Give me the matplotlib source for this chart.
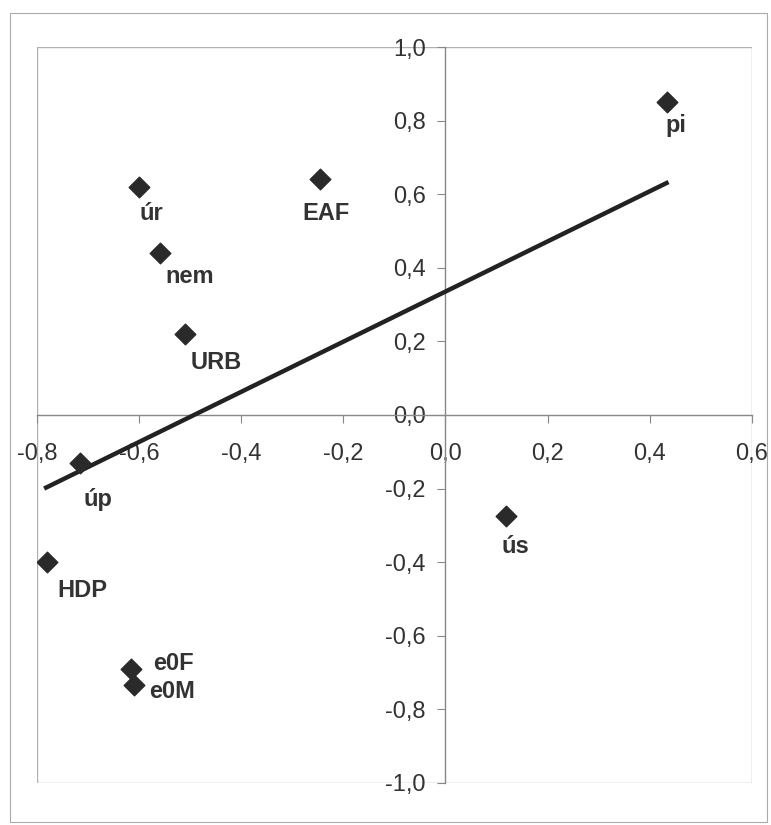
import matplotlib
matplotlib.use("Agg")
import matplotlib.pyplot as plt
from matplotlib.patches import Rectangle
from matplotlib.ticker import FuncFormatter

# data
labels = ["úr", "EAF", "nem", "URB", "pi", "úp", "HDP", "e0F", "e0M", "ús"]
x_vals = [-0.60, -0.245, -0.56, -0.51, 0.435, -0.715, -0.78, -0.615, -0.61, 0.118]
y_vals = [0.62, 0.64, 0.44, 0.22, 0.85, -0.13, -0.40, -0.69, -0.735, -0.275]
# label offsets in pixels (dx right, dy up)
offsets = [(12, -27), (6, -34), (30, -23), (31, -28), (8, -23),
           (18, -37), (35, -28), (42, 5), (38, -6), (10, -30)]

# trend line end points
line_x = [-0.786, 0.437]
line_y = [-0.20, 0.633]

xticks = [-0.8, -0.6, -0.4, -0.2, 0.0, 0.2, 0.4, 0.6]
yticks = [-1.0, -0.8, -0.6, -0.4, -0.2, 0.0, 0.2, 0.4, 0.6, 0.8, 1.0]

plt.rcParams["font.family"] = ["Liberation Sans", "DejaVu Sans"]

fig = plt.figure(figsize=(7.71, 8.25), dpi=100)
ax = fig.add_axes([0.048, 0.051, 0.927, 0.892])

# outer chart frame
fig.patches.append(Rectangle((10 / 771, 3 / 825), 757 / 771, 809 / 825,
                             transform=fig.transFigure, fill=False,
                             edgecolor="#aaaaaa", lw=0.8))

ax.plot(line_x, line_y, color="#222222", lw=3.2, solid_capstyle="butt", zorder=3)
ax.scatter(x_vals, y_vals, marker="D", s=110, color="#2a2a2a", zorder=4)

for lab, x, y, (dx, dy) in zip(labels, x_vals, y_vals, offsets):
    ax.annotate(lab, (x, y), xytext=(dx, dy), textcoords="offset pixels",
                ha="center", va="center", fontsize=17, fontweight="bold",
                color="#333333")

ax.set_xlim(-0.8, 0.6)
ax.set_ylim(-1.0, 1.0)

for s in ("top", "right"):
    ax.spines[s].set_visible(False)
ax.spines["left"].set_position(("data", 0))
ax.spines["bottom"].set_position(("data", 0))
for s in ("left", "bottom"):
    ax.spines[s].set_color("#888888")
    ax.spines[s].set_linewidth(1.0)

# plot area border
ax.add_patch(Rectangle((0, 0), 1, 1, transform=ax.transAxes, fill=False,
                       edgecolor="#b0b0b0", lw=1.0, zorder=1))

fmt = FuncFormatter(lambda v, p: f"{v:.1f}".replace(".", ",").replace("-0,0", "0,0"))
ax.set_xticks(xticks)
ax.set_yticks(yticks)
ax.xaxis.set_major_formatter(fmt)
ax.yaxis.set_major_formatter(fmt)
ax.tick_params(axis="both", direction="out", length=6, width=0.8, color="#888888",
               labelsize=17, labelcolor="#333333")
ax.tick_params(axis="x", pad=14)
ax.tick_params(axis="y", pad=8)

fig.savefig("out.png", dpi=100)
